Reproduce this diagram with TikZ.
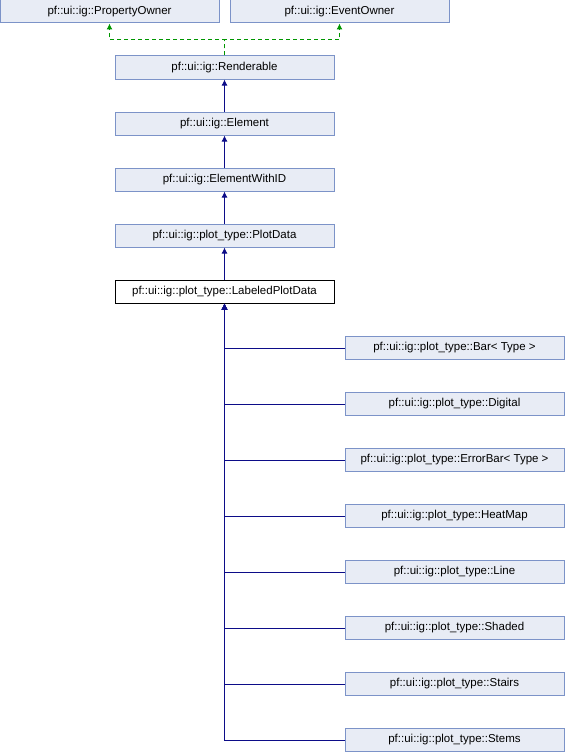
\documentclass[tikz,border=0pt]{standalone}
\usepackage{fontspec}
\setmainfont{Liberation Sans}
\usetikzlibrary{arrows.meta}
\definecolor{boxfill}{HTML}{E8ECF5}
\definecolor{boxline}{HTML}{7C93C8}
\definecolor{inhblue}{HTML}{0C0C88}
\definecolor{usegreen}{HTML}{009600}
\tikzset{
  cls/.style={draw=boxline, fill=boxfill, line width=1pt, minimum width=219pt,
    minimum height=23pt, inner sep=0pt, font=\fontsize{11.5pt}{13pt}\selectfont},
  curcls/.style={cls, draw=black, fill=white},
  inh/.style={draw=inhblue, line width=1pt, -{Latex[length=6pt,width=6pt]}},
  usedby/.style={draw=usegreen, line width=1pt, dashed, dash pattern=on 4pt off 3pt,
    -{Latex[length=6pt,width=6pt]}}
}
\begin{document}
\begin{tikzpicture}[x=1pt,y=-1pt]
\useasboundingbox (0,0) rectangle (565,752);
% parents
\node[cls] (po) at (109.5,11.5) {pf::ui::ig::PropertyOwner};
\node[cls] (eo) at (339.5,11.5) {pf::ui::ig::EventOwner};
% main chain
\node[cls] (ren) at (224.5,67.5) {pf::ui::ig::Renderable};
\node[cls] (el) at (224.5,123.5) {pf::ui::ig::Element};
\node[cls] (eid) at (224.5,179.5) {pf::ui::ig::ElementWithID};
\node[cls] (pd) at (224.5,235.5) {pf::ui::ig::plot\_type::PlotData};
\node[curcls] (lpd) at (224.5,291.5) {pf::ui::ig::plot\_type::LabeledPlotData};
% derived plot types
\node[cls] (bar) at (454.5,348) {pf::ui::ig::plot\_type::Bar< Type >};
\node[cls] (dig) at (454.5,404) {pf::ui::ig::plot\_type::Digital};
\node[cls] (err) at (454.5,460) {pf::ui::ig::plot\_type::ErrorBar< Type >};
\node[cls] (heat) at (454.5,516) {pf::ui::ig::plot\_type::HeatMap};
\node[cls] (line) at (454.5,572) {pf::ui::ig::plot\_type::Line};
\node[cls] (shad) at (454.5,628) {pf::ui::ig::plot\_type::Shaded};
\node[cls] (stair) at (454.5,684) {pf::ui::ig::plot\_type::Stairs};
\node[cls] (stem) at (454.5,740) {pf::ui::ig::plot\_type::Stems};
% inheritance of Renderable from both owners
\coordinate (j) at (224.5,40);
\draw[usedby] (ren.north) -- (j) -| (po.south);
\draw[usedby] (ren.north) -- (j) -| (eo.south);
% chain
\draw[inh] (el.north) -- (ren.south);
\draw[inh] (eid.north) -- (el.south);
\draw[inh] (pd.north) -- (eid.south);
\draw[inh] (lpd.north) -- (pd.south);
\foreach \n in {bar,dig,err,heat,line,shad,stair,stem}
  \draw[inh] (\n.west) -| (lpd.south);
\end{tikzpicture}
\end{document}
